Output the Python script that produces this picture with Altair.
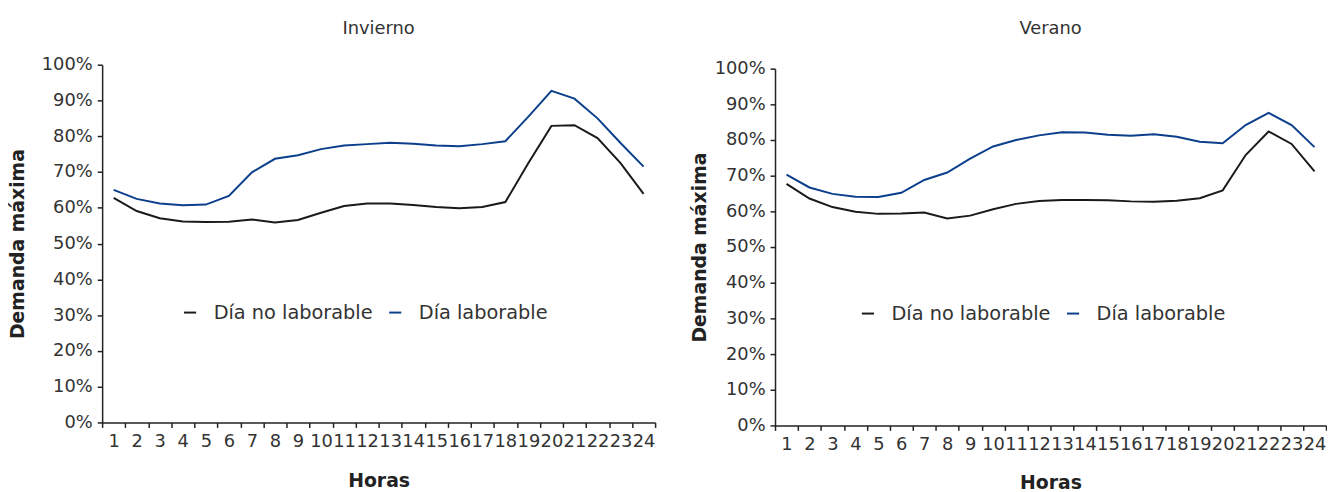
import altair as alt
import pandas as pd

hours = list(range(1, 25))
series = ["Día no laborable", "Día laborable"]
colors = ["#1a1a1a", "#0b3f8c"]

winter_no_lab = [62.8, 59.1, 57.1, 56.2, 56.0, 56.1, 56.7, 55.9, 56.6, 58.6, 60.5, 61.2,
                 61.2, 60.8, 60.2, 59.9, 60.2, 61.6, 72.5, 82.9, 83.1, 79.5, 72.5, 63.9]
winter_lab = [65.0, 62.5, 61.2, 60.7, 60.9, 63.3, 69.9, 73.7, 74.7, 76.4, 77.4, 77.8,
              78.2, 77.9, 77.4, 77.2, 77.8, 78.6, 85.5, 92.7, 90.5, 85.0, 78.1, 71.5]
summer_no_lab = [67.7, 63.6, 61.2, 59.9, 59.3, 59.4, 59.7, 58.0, 58.8, 60.6, 62.1, 62.9,
                 63.2, 63.2, 63.1, 62.8, 62.7, 63.0, 63.7, 65.9, 75.8, 82.4, 78.9, 71.2]
summer_lab = [70.3, 66.7, 64.9, 64.1, 64.0, 65.2, 68.8, 70.9, 74.8, 78.2, 80.0, 81.3,
              82.2, 82.1, 81.5, 81.2, 81.6, 80.9, 79.5, 79.1, 84.2, 87.6, 84.2, 78.0]

y_ticks = [i / 10 for i in range(11)]


def make_df(nolab, lab):
    rows = []
    for h, v in zip(hours, nolab):
        rows.append({"hora": h, "valor": v / 100, "serie": series[0]})
    for h, v in zip(hours, lab):
        rows.append({"hora": h, "valor": v / 100, "serie": series[1]})
    return pd.DataFrame(rows)


def panel(title, nolab, lab, width, height, y_range, y_title_pad, x_title_pad,
          title_offset, leg_x, leg_y):
    df = make_df(nolab, lab)
    return alt.Chart(df).mark_line(strokeWidth=2).encode(
        x=alt.X("hora:O", sort=hours,
                scale=alt.Scale(paddingInner=0, paddingOuter=0),
                axis=alt.Axis(title="Horas", labelAngle=0, tickBand="extent",
                              labelPadding=5, titlePadding=x_title_pad)),
        y=alt.Y("valor:Q", scale=alt.Scale(domain=[0, 1], nice=False, range=y_range),
                axis=alt.Axis(title="Demanda máxima", format="%", values=y_ticks,
                              labelPadding=5, titlePadding=y_title_pad)),
        color=alt.Color("serie:N", sort=series,
                        scale=alt.Scale(domain=series, range=colors),
                        legend=alt.Legend(orient="none", legendX=leg_x, legendY=leg_y,
                                          direction="horizontal", title=None,
                                          symbolType="stroke", symbolSize=150,
                                          symbolStrokeWidth=2, labelOffset=14,
                                          labelLimit=400,
                                          columnPadding=11, padding=0,
                                          labelFont="DejaVu Sans", labelFontSize=19.5,
                                          labelColor="#333333")),
    ).properties(
        width=width, height=height,
        title=alt.TitleParams(title, offset=title_offset, font="DejaVu Sans",
                              fontSize=18, fontWeight="normal", color="#333333"),
    )


left = panel("Invierno", winter_no_lab, winter_lab, 558, 361, [361, 0], 13.5, 22, 18, 79, 240)
right = panel("Verano", summer_no_lab, summer_lab, 556, 364, [364, 4], 4.6, 21, 22, 84, 241)

chart = alt.hconcat(left, right, spacing=34).resolve_legend(
    color="independent"
).properties(
    padding={"left": 1, "top": 10, "right": 0, "bottom": 0}
).configure_view(stroke=None).configure_axis(
    grid=False,
    labelFont="DejaVu Sans", labelFontSize=18, labelColor="#333333",
    titleFont="DejaVu Sans", titleFontSize=19, titleFontWeight="bold", titleColor="#222222",
    domainColor="#222222", domainWidth=1.5, tickColor="#222222", tickSize=5, tickWidth=1.5,
)

chart.save("out.html", embed_options={"renderer": "svg", "actions": False})
